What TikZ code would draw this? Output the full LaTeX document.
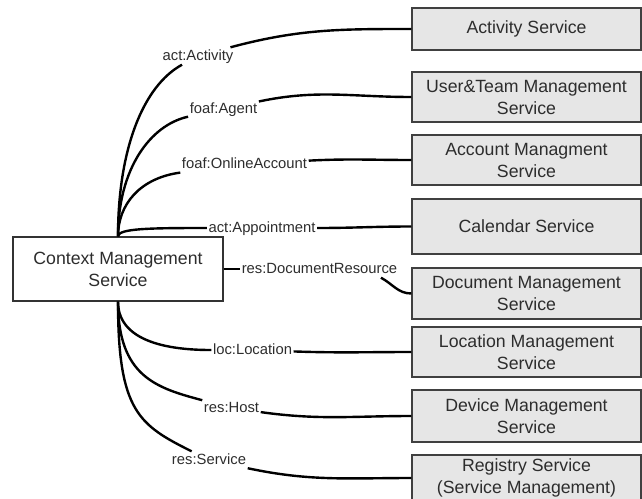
\documentclass[tikz,border=0pt]{standalone}
\usepackage{fontspec}
\setmainfont{Liberation Sans}

\definecolor{boxfill}{RGB}{230,230,230}
\definecolor{inkgray}{RGB}{45,45,45}
\newcommand{\svcfont}{\fontsize{17.7}{22}\selectfont}
\newcommand{\relfont}{\fontsize{14.8}{17}\selectfont}

\tikzset{
    svc/.style={draw=black!75, line width=1.2pt, fill=boxfill, text=inkgray,
        font=\svcfont, align=center, minimum width=229pt, inner sep=0pt},
    ctxbox/.style={draw=black!80, line width=1.2pt, fill=white, text=inkgray,
        font=\svcfont, align=center, minimum width=210pt, minimum height=64pt, inner sep=0pt},
    rel/.style={font=\relfont, text=inkgray, inner sep=1.5pt, text height=11pt, text depth=3pt},
    link/.style={line width=2.4pt, black}
}

\begin{document}
\begin{tikzpicture}[x=1pt, y=1pt]
    \useasboundingbox (0,0) rectangle (642,-498);

    % context service on the left
    \node[ctxbox] at (118, -269) (ctx) {Context Management\\Service};

    % services on the right
    \node[svc, minimum height=42pt] at (526.5, -29) (sAct) {Activity Service};
    \node[svc, minimum height=50pt] at (526.5, -97) (sUser) {User\&Team Management\\Service};
    \node[svc, minimum height=50pt] at (526.5, -160) (sAcc) {Account Managment\\Service};
    \node[svc, minimum height=55pt] at (526.5, -226.5) (sCal) {Calendar Service};
    \node[svc, minimum height=51pt] at (526.5, -293.5) (sDoc) {Document Management\\Service};
    \node[svc, minimum height=50pt] at (526.5, -352) (sLoc) {Location Management\\Service};
    \node[svc, minimum height=52pt] at (526.5, -416) (sDev) {Device Management\\Service};
    \node[svc, minimum height=46pt] at (526.5, -478) (sReg) {Registry Service\\(Service Management)};

    % relation labels
    \node[rel] at (198, -56) (lAct) {act:Activity};
    \node[rel] at (223.5, -109) (lAgent) {foaf:Agent};
    \node[rel] at (244.5, -164) (lAcc) {foaf:OnlineAccount};
    \node[rel] at (262, -228) (lApp) {act:Appointment};
    \node[rel] at (319.5, -269) (lDoc) {res:DocumentResource};
    \node[rel] at (252.5, -350) (lLoc) {loc:Location};
    \node[rel] at (231.5, -408) (lHost) {res:Host};
    \node[rel] at (209, -460) (lSvc) {res:Service};

    % upper fan
    \draw[link] (ctx.north) .. controls +(0,87) and +(-55,-30) .. (lAct);
    \draw[link] (lAct) to[out=15, in=180] (sAct);
    \draw[link] (ctx.north) .. controls +(0,67) and +(-73.5,-16) .. (lAgent);
    \draw[link] (lAgent) to[out=12, in=180] (sUser);
    \draw[link] (ctx.north) .. controls +(0,32) and +(-104.5,-14) .. (lAcc);
    \draw[link] (lAcc) to[out=3, in=180] (sAcc);
    \draw[link] (ctx.north) .. controls +(0,8) and +(-112,0) .. (lApp);
    \draw[link] (lApp) to[out=0, in=180] (sCal);

    % straight out to the right
    \draw[link] (ctx.east) -- (lDoc);
    \draw[link] ([xshift=-18pt]lDoc.south east) to[out=-28, in=180] (sDoc);

    % lower fan
    \draw[link] (ctx.south) .. controls +(0,-45) and +(-70.5,0) .. (lLoc);
    \draw[link] (lLoc) to[out=-2, in=180] (sLoc);
    \draw[link] (ctx.south) .. controls +(0,-75) and +(-75,20) .. (lHost);
    \draw[link] (lHost) to[out=-8, in=180] (sDev);
    \draw[link] (ctx.south) .. controls +(0,-110) and +(-70,35) .. (lSvc);
    \draw[link] (lSvc) to[out=-12, in=180] (sReg);
\end{tikzpicture}
\end{document}
